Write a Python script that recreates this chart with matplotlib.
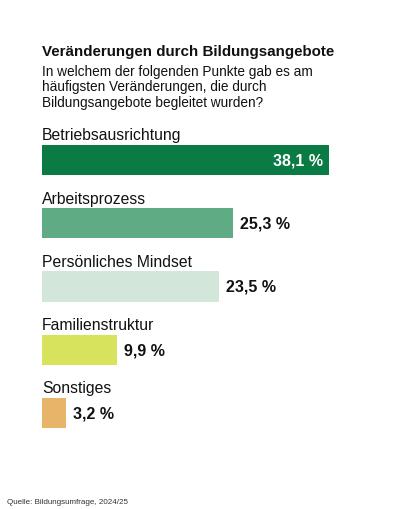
import matplotlib
matplotlib.use("Agg")
import matplotlib.pyplot as plt

# ============================
# Data
# ============================
categories = ["Betriebsausrichtung", "Arbeitsprozess", "Persönliches Mindset",
              "Familienstruktur", "Sonstiges"]
values = [38.1, 25.3, 23.5, 9.9, 3.2]
value_labels = ["38,1 %", "25,3 %", "23,5 %", "9,9 %", "3,2 %"]
colors = ["#0b7b45", "#5fab83", "#d2e6da", "#d7e25d", "#e6b56a"]

title = "Veränderungen durch Bildungsangebote"
subtitle = ("In welchem der folgenden Punkte gab es am\n"
            "häufigsten Veränderungen, die durch\n"
            "Bildungsangebote begleitet wurden?")
source = "Quelle: Bildungsumfrage, 2024/25"

plt.rcParams['font.family'] = ['Liberation Sans', 'DejaVu Sans']

W, H = 408, 510
fig = plt.figure(figsize=(W / 100, H / 100), dpi=100)


def fx(px):
    return px / W


def fy(py):
    return 1 - py / H


# ============================
# Bars
# ============================
ax = fig.add_axes([fx(42), fy(445.6), fx(381) - fx(42), fy(129.4) - fy(445.6)])
pos = list(range(len(values)))
ax.barh(pos, values, height=0.475, color=colors, align='center')
ax.set_xlim(0, 45)
ax.set_ylim(len(values) - 0.5, -0.5)
ax.axis('off')

px_per_unit = (381 - 42) / 45
for i, (cat, v, lab) in enumerate(zip(categories, values, value_labels)):
    ax.text(0, i - 0.325, cat, fontsize=11.3, color='#111111',
            va='baseline', ha='left')
    if i == 0:
        ax.text(v - 6 / px_per_unit, i, lab, fontsize=11.5, fontweight='bold',
                color='white', va='center', ha='right')
    else:
        ax.text(v + 7 / px_per_unit, i, lab, fontsize=11.5, fontweight='bold',
                color='#111111', va='center', ha='left')

# ============================
# Titles
# ============================
fig.text(fx(42), fy(56), title, fontsize=10.9, fontweight='bold',
         color='#111111', va='baseline', ha='left')
fig.text(fx(42), fy(65), subtitle, fontsize=9.8, color='#111111',
         va='top', ha='left', linespacing=1.12)
fig.text(fx(7), fy(504), source, fontsize=5.8, color='#333333',
         va='baseline', ha='left')

fig.savefig("out.png", dpi=100, facecolor='white')
